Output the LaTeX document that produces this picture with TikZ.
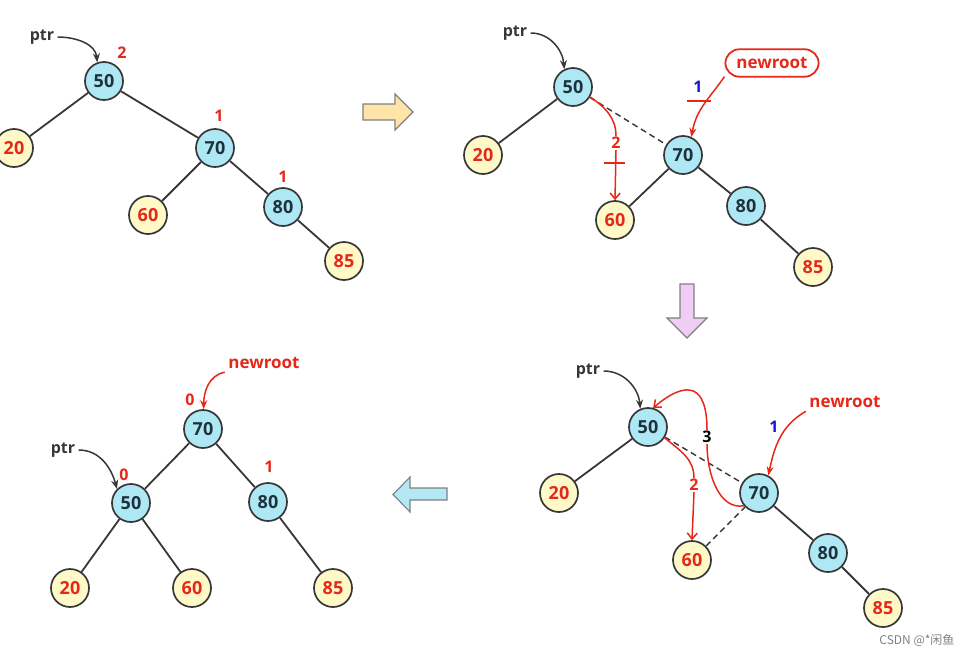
\documentclass[tikz,border=0pt]{standalone}
\usepackage{fontspec}
\setmainfont{Open Sans}
\newfontfamily\cjkfont{Noto Sans CJK SC}
\usepackage{tikz}
\usetikzlibrary{arrows.meta}

\definecolor{edgegray}{RGB}{55,55,55}
\definecolor{numdark}{RGB}{30,50,60}
\definecolor{numred}{RGB}{230,40,25}
\definecolor{numblue}{RGB}{20,20,210}
\definecolor{nodeblue}{RGB}{175,232,245}
\definecolor{nodeyellow}{RGB}{255,249,200}
\definecolor{goright}{RGB}{255,228,170}
\definecolor{godown}{RGB}{240,205,245}
\definecolor{goleft}{RGB}{180,232,245}

\begin{document}
\begin{tikzpicture}[x=1pt,y=1pt,
		innode/.style={circle,draw=edgegray,line width=1.7pt,fill=nodeblue,minimum size=38pt,inner sep=0pt,
			font=\fontsize{18}{18}\selectfont\bfseries,text=numdark},
		leafnode/.style={innode,fill=nodeyellow,text=numred},
		bal/.style={font=\fontsize{16}{16}\selectfont\bfseries,text=numred,inner sep=1pt},
		tag/.style={font=\fontsize{16}{16}\selectfont\bfseries},
		link/.style={draw=edgegray,line width=1.8pt},
		oldlink/.style={link,dash pattern=on 6pt off 4pt,line width=1.4pt},
		ptrarrow/.style={draw=edgegray,line width=1.5pt,-{Stealth[length=9pt,width=7pt]}},
		rootarrow/.style={draw=numred,line width=1.5pt,-{Stealth[length=9pt,width=7pt]}},
		cutarrow/.style={draw=numred,line width=1.5pt},
		openhead/.style={-{Straight Barb[length=6pt,width=10pt]}},
		bigarrow/.style={draw=gray,line width=1.1pt,line join=miter}]
	\useasboundingbox (0,0) rectangle (973,-656);

	% blue and yellow circles of the four trees
	\foreach \p/\v/\x/\y in {a/50/104/81, a/70/215/148, a/80/283/207, b/50/573/87, b/70/683/155, b/80/746/206,
			c/50/648/427, c/70/759/493, c/80/828/553, d/70/203/429, d/50/131/503, d/80/268/502}
		\node[innode] (\p\v) at (\x,-\y) {\v};
	\foreach \p/\v/\x/\y in {a/20/14/148, a/60/148/215, a/85/344/261, b/20/483/155, b/60/615/220, b/85/813/267,
			c/20/559/493, c/60/692/560, c/85/883/608, d/20/70/588, d/60/192/588, d/85/333/588}
		\node[leafnode] (\p\v) at (\x,-\y) {\v};

	\foreach \u/\w in {a50/a20, a50/a70, a70/a60, a70/a80, a80/a85, b50/b20, b70/b60, b70/b80, b80/b85,
			c50/c20, c70/c80, c80/c85, d70/d50, d70/d80, d50/d20, d50/d60, d80/d85}
		\draw[link] (\u) -- (\w);
	\foreach \u/\w in {b50/b70, c50/c70, c60/c70}
		\draw[oldlink] (\u) -- (\w);

	% balance factors
	\node[bal] (fa50) at (122,-53) {2};
	\node[bal] (fa70) at (219,-116) {1};
	\node[bal] (fa80) at (283,-177) {1};
	\node[bal] (fd70) at (190,-400) {0};
	\node[bal] (fd50) at (124,-475) {0};
	\node[bal] (fd80) at (269,-467) {1};

	% ptr
	\node[tag,text=edgegray] (pa) at (42,-37) {ptr};
	\node[tag,text=edgegray] (pb) at (515,-33) {ptr};
	\node[tag,text=edgegray] (pc) at (588,-371) {ptr};
	\node[tag,text=edgegray] (pd) at (63,-450) {ptr};
	\draw[ptrarrow] (pa.east) to[out=0,in=95] (a50.110);
	\draw[ptrarrow] (pb.east) to[out=0,in=95] (b50.116);
	\draw[ptrarrow] (pc.east) to[out=0,in=95] (c50.113);
	\draw[ptrarrow] (pd.east) to[out=0,in=105] (d50.135);

	% newroot
	\node[tag,text=numred,draw=numred,line width=1.8pt,rounded corners=14pt,inner xsep=11pt,inner ysep=8pt,
		font=\fontsize{17}{17}\selectfont\bfseries] (nb) at (772,-63) {newroot};
	\node[tag,text=numred,font=\fontsize{17}{17}\selectfont\bfseries] (nc) at (845,-402) {newroot};
	\node[tag,text=numred,font=\fontsize{17}{17}\selectfont\bfseries] (nd) at (264,-363) {newroot};
	\draw[rootarrow] (nb.196) .. controls +(-125:28) and +(80:28) .. (b70.65);
	\draw[rootarrow] (nc.south west) to[out=-150,in=78] (c70.62);
	\draw[rootarrow] (nd.south west) to[out=190,in=90] (d70.88);

	% step 1 and 2 on the second tree
	\node[bal,text=numblue] (b1) at (698,-87) {1};
	\draw[cutarrow] (687,-101) -- (711,-101);
	\node[bal] (b2) at (616,-143) {2};
	\draw[cutarrow] (b50.-30) to[out=-35,in=90] (b2.north);
	\draw[cutarrow,openhead] (b2.south) -- (b60.north);
	\draw[cutarrow] (604,-163) -- (625,-163);

	% steps 1, 2, 3 on the third tree
	\node[bal,text=numblue] (c1) at (774,-427) {1};
	\node[bal] (c2) at (694,-485) {2};
	\draw[cutarrow] (c50.-33) to[out=-40,in=90] (c2.north);
	\draw[cutarrow,openhead] (c2.south) -- (c60.north);
	\node[bal,text=black] (c3) at (707,-437) {3};
	\draw[cutarrow] (c70.220) .. controls +(190:25) and +(-90:30) .. (c3.south);
	\draw[cutarrow,openhead] (c3.north) .. controls +(90:45) and +(40:45) .. (c50.75);

	% big arrows between the steps
	\draw[bigarrow,fill=goright] (363,-104) -- (395,-104) -- (395,-94) -- (413,-112) -- (395,-130) -- (395,-120) -- (363,-120) -- cycle;
	\draw[bigarrow,fill=godown] (680,-284) -- (694,-284) -- (694,-318) -- (707,-318) -- (687,-338) -- (667,-318) -- (680,-318) -- cycle;
	\draw[bigarrow,fill=goleft] (447,-488) -- (410,-488) -- (410,-477) -- (393,-494.5) -- (410,-512) -- (410,-500) -- (447,-500) -- cycle;

	\node[anchor=east,text=gray,font=\fontsize{12}{12}\selectfont\cjkfont] (mark) at (958,-640) {CSDN @*闲鱼};
\end{tikzpicture}
\end{document}
